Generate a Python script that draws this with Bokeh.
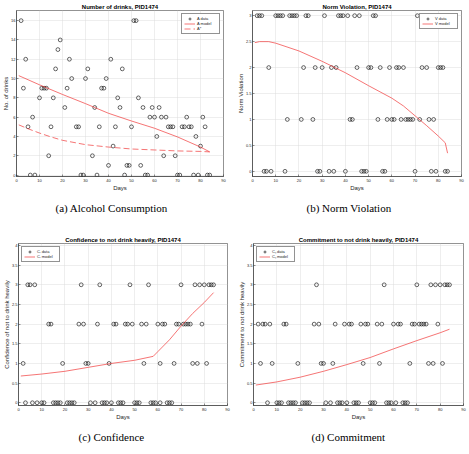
from bokeh.plotting import figure
from bokeh.layouts import column, row
from bokeh.models import (FixedTicker, NumeralTickFormatter, Legend, LegendItem,
                          Range1d, Title)
from bokeh.embed import file_html
from bokeh.resources import INLINE

# ---------------- data ----------------
# (a) Alcohol consumption
A_days = [2, 3, 4, 5, 6, 7, 8, 10, 11, 12, 13, 14, 15, 16, 17, 18, 19, 21, 22, 23, 24,
          26, 27, 28, 29, 30, 31, 33, 34, 35, 36, 37, 38, 39, 40, 41, 42, 43, 44, 45, 46,
          47, 48, 49, 50, 51, 52, 53, 54, 55, 56, 57, 58, 59, 60, 61, 62, 63, 64, 65, 66,
          67, 68, 69, 70, 71, 72, 73, 74, 75, 76, 77, 78, 79, 80, 81, 82, 83, 84]
A_drinks = [16, 9, 12, 5, 0, 6, 0, 8, 9, 9, 9, 2, 5, 8, 11, 13, 14, 7, 9, 12, 10,
            5, 5, 0, 0, 10, 11, 2, 7, 0, 5, 9, 9, 10, 1, 12, 3, 5, 8, 7, 11,
            0, 1, 1, 5, 16, 16, 8, 1, 7, 0, 0, 6, 7, 6, 4, 7, 6, 2, 6, 5,
            5, 5, 2, 0, 0, 5, 5, 6, 5, 5, 0, 4, 0, 3, 6, 5, 0, 0]
A_model_days = [1, 10, 20, 30, 40, 50, 60, 70, 80, 84]
A_model = [10.3, 9.35, 8.35, 7.4, 6.4, 5.6, 4.85, 3.95, 2.9, 2.4]
Astar_days = [1, 5, 10, 15, 20, 30, 40, 50, 60, 70, 80, 84]
Astar = [5.2, 4.8, 4.35, 3.95, 3.6, 3.15, 2.9, 2.7, 2.6, 2.5, 2.45, 2.4]

# (b) Norm violation, days grouped by observed level
V_levels = [3, 2, 1, 0]
V_days = [
    [2, 3, 4, 10, 11, 12, 13, 16, 17, 18, 19, 23, 24, 31, 37, 38, 39, 41, 44, 46, 52, 53, 71, 74],
    [7, 22, 27, 30, 34, 36, 45, 50, 51, 55, 59, 62, 63, 65, 73, 75, 80, 81, 82],
    [15, 21, 26, 42, 43, 54, 58, 60, 61, 64, 66, 67, 68, 69, 72, 76, 78],
    [5, 6, 8, 14, 28, 29, 33, 35, 40, 47, 48, 49, 56, 57, 70, 77, 79, 83, 84],
]
V_model_days = [1, 3, 7, 10, 20, 30, 40, 50, 60, 65, 70, 75, 80, 83, 84]
V_model = [2.48, 2.5, 2.5, 2.47, 2.32, 2.12, 1.9, 1.65, 1.41, 1.26, 1.07, 0.88, 0.68, 0.55, 0.35]

# (c) Confidence
C_levels = [3, 2, 1, 0]
C_days = [
    [4, 5, 7, 27, 35, 48, 56, 70, 76, 78, 80, 82, 83, 84],
    [13, 14, 26, 28, 34, 41, 42, 46, 47, 49, 53, 55, 60, 62, 63, 68, 69, 71, 72, 73, 74, 79],
    [2, 19, 29, 30, 39, 54, 61, 67, 75, 77, 81],
    [3, 6, 8, 10, 11, 15, 16, 17, 18, 21, 22, 23, 24, 31, 33, 36, 37, 38, 40, 43, 44, 45,
     50, 51, 52, 57, 58, 59, 61, 64, 65, 66],
]
C_model_days = [1, 10, 20, 30, 40, 50, 58, 60, 65, 70, 75, 80, 84]
C_model = [0.68, 0.73, 0.8, 0.9, 1.0, 1.08, 1.18, 1.3, 1.6, 1.95, 2.27, 2.55, 2.8]

# (d) Commitment
D_levels = [3, 2, 1, 0]
D_days = [
    [27, 56, 70, 76, 78, 80, 82, 83, 84],
    [2, 4, 5, 7, 13, 14, 26, 28, 35, 39, 41, 42, 46, 48, 49, 53, 55, 60, 62, 63, 68, 69,
     71, 72, 73, 74, 79],
    [3, 8, 19, 29, 30, 34, 47, 54, 67, 75, 77, 81],
    [6, 10, 11, 12, 15, 16, 17, 18, 21, 22, 23, 24, 31, 33, 36, 37, 38, 40, 43, 44, 45,
     50, 51, 52, 57, 58, 59, 61, 64, 65, 66],
]
D_model_days = [1, 10, 20, 30, 40, 50, 60, 70, 80, 84]
D_model = [0.45, 0.53, 0.65, 0.8, 0.97, 1.15, 1.37, 1.58, 1.78, 1.87]

x_ticks = [0, 10, 20, 30, 40, 50, 60, 70, 80, 90]

# ---------------- style ----------------
SANS = "Liberation Sans"
SERIF = "Liberation Serif"
DARK = "#262626"
RED = "#f03a3a"


def flatten(levels, days):
    xs, ys = [], []
    for lv, ds in zip(levels, days):
        xs += ds
        ys += [lv] * len(ds)
    return xs, ys


def panel(title, ylabel, caption, yr, yticks, w, h, bl, br, bt, bb, cap_standoff, cap_offset):
    p = figure(width=w, height=h, x_range=Range1d(0, 90),
               y_range=Range1d(*yr), output_backend="svg", toolbar_location=None,
               min_border_left=bl, min_border_right=br, min_border_top=bt,
               min_border_bottom=bb, background_fill_color="white",
               border_fill_color="white")
    p.title.text = title
    p.title.text_font = SANS
    p.title.text_font_size = "6px"
    p.title.text_font_style = "bold"
    p.title.text_color = "black"
    p.title.align = "center"
    p.title.standoff = 2
    p.xaxis.axis_label = "Days"
    p.yaxis.axis_label = ylabel
    p.xaxis.ticker = FixedTicker(ticks=x_ticks)
    p.yaxis.ticker = FixedTicker(ticks=yticks)
    p.yaxis.formatter = NumeralTickFormatter(format="0.[0]")
    for ax in (p.xaxis[0], p.yaxis[0]):
        ax.major_tick_in = 2
        ax.major_tick_out = 0
        ax.minor_tick_line_color = None
        ax.axis_line_color = DARK
        ax.axis_line_width = 0.5
        ax.major_tick_line_color = DARK
        ax.major_tick_line_width = 0.5
        ax.major_label_text_font = SANS
        ax.major_label_text_font_size = "4px"
        ax.major_label_text_color = DARK
        ax.axis_label_text_font = SANS
        ax.axis_label_text_font_size = "6px"
        ax.axis_label_text_font_style = "normal"
        ax.axis_label_text_color = DARK
    p.xaxis.major_label_standoff = 2
    p.xaxis.axis_label_standoff = 0
    p.yaxis.major_label_standoff = 1
    p.yaxis.axis_label_standoff = -1
    p.grid.grid_line_color = "#dcdcdc"
    p.grid.grid_line_width = 0.5
    p.outline_line_color = DARK
    p.outline_line_width = 0.5
    p.outline_line_alpha = 1
    p.add_layout(Title(text=caption, align="left", offset=cap_offset, text_font=SERIF,
                       text_font_size="11px", text_font_style="normal",
                       text_color="black", standoff=cap_standoff), "below")
    return p


def add_legend(p, items, loc):
    lg = Legend(items=items, location=loc, margin=3, padding=2, spacing=0,
                label_text_font=SANS, label_text_font_size="4px",
                label_text_color=DARK, label_height=4, glyph_height=5,
                glyph_width=11, label_standoff=2, border_line_color=DARK,
                border_line_width=0.5, background_fill_alpha=1)
    p.add_layout(lg)


def scatter(p, xs, ys):
    return p.scatter(xs, ys, marker="circle", size=3.8, fill_color=None,
                     line_color="black", line_width=0.6)


# (a)
pa = panel("Number of drinks, PID1474", "No. of drinks", "(a) Alcohol Consumption",
           (-0.15, 17.05), [0, 2, 4, 6, 8, 10, 12, 14, 16], 234, 220, 16, 11, 10, 44, 12, 39)
ra = scatter(pa, A_days, A_drinks)
rma = pa.line(A_model_days, A_model, line_color=RED, line_width=0.7)
rsa = pa.line(Astar_days, Astar, line_color=RED, line_width=0.7, line_dash="6 3")
add_legend(pa, [LegendItem(label="A data", renderers=[ra]),
                LegendItem(label="A model", renderers=[rma]),
                LegendItem(label="A*", renderers=[rsa])], "top_right")

# (b)
pb = panel("Norm Violation, PID1474", "Norm Violation", "(b) Norm Violation",
           (-0.1, 3.1), [0, 0.5, 1, 1.5, 2, 2.5, 3], 235, 220, 17, 8, 10, 44, 12, 54)
xb, yb = flatten(V_levels, V_days)
rb = scatter(pb, xb, yb)
rmb = pb.line(V_model_days, V_model, line_color=RED, line_width=0.7)
add_legend(pb, [LegendItem(label="V data", renderers=[rb]),
                LegendItem(label="V model", renderers=[rmb])], "top_right")

# (c)
pc = panel("Confidence to not drink heavily, PID1474", "Confidence of not to drink heavily",
           "(c) Confidence", (-0.07, 4.05), [0, 0.5, 1, 1.5, 2, 2.5, 3, 3.5, 4],
           234, 234, 17, 7, 23, 49, 13, 60)
xc, yc = flatten(C_levels, C_days)
rc = scatter(pc, xc, yc)
rmc = pc.line(C_model_days, C_model, line_color=RED, line_width=0.7)
add_legend(pc, [LegendItem(label="Cᵢ data", renderers=[rc]),
                LegendItem(label="Cᵢ model", renderers=[rmc])], "top_left")

# (d)
pd_ = panel("Commitment to not drink heavily, PID1474", "Commitment to not drink heavily",
            "(d) Commitment", (-0.07, 4.05), [0, 0.5, 1, 1.5, 2, 2.5, 3, 3.5, 4],
            235, 234, 19, 6, 23, 49, 13, 58)
xd, yd = flatten(D_levels, D_days)
rd = scatter(pd_, xd, yd)
rmd = pd_.line(D_model_days, D_model, line_color=RED, line_width=0.7)
add_legend(pd_, [LegendItem(label="Cₛ data", renderers=[rd]),
                 LegendItem(label="Cₛ model", renderers=[rmd])], "top_left")

layout = column(row(pa, pb, spacing=0), row(pc, pd_, spacing=0), spacing=0)
open("out.html", "w").write(file_html(layout, INLINE))
